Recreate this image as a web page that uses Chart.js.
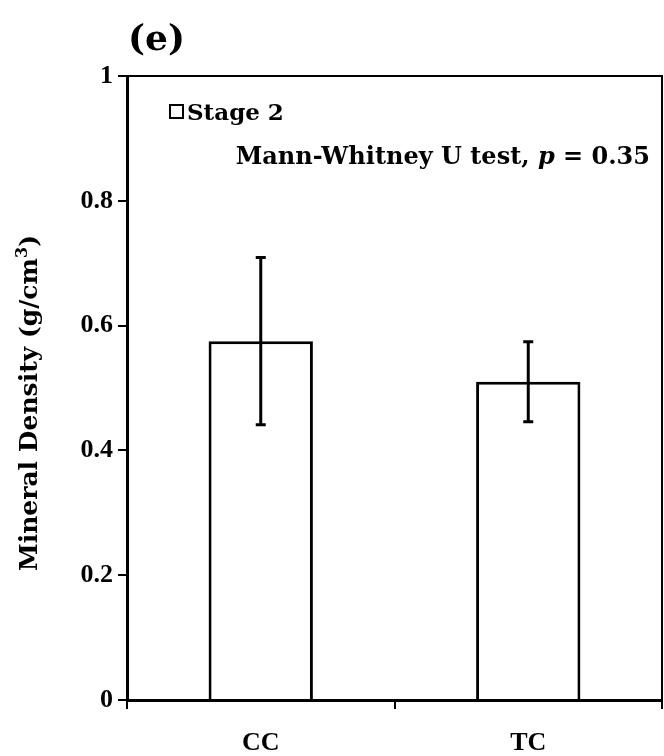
<!DOCTYPE html>
<html>
<head>
<meta charset="utf-8">
<script src="https://cdn.jsdelivr.net/npm/chart.js@4.4.0/dist/chart.umd.min.js"></script>
<style>
  html, body { margin: 0; padding: 0; background: #ffffff; }
  #wrap { width: 664px; height: 756px; position: relative; }
</style>
</head>
<body>
<div id="wrap"><canvas id="densityChart"></canvas></div>
<script>
// daten
const categories = ['CC', 'TC'];
const meanValues = [0.575, 0.510];
const sdValues = [0.134, 0.064];
const yTicks = [0, 0.2, 0.4, 0.6, 0.8, 1];
const seriesName = 'Stage 2';
const panelLabel = '(e)';
const testText = 'Mann-Whitney U test, ';

const tickFont = '"Liberation Serif", serif';
const textFont = '"DejaVu Serif", serif';

// fehlerbalken + texte
const extrasPlugin = {
    id: 'extras',
    afterDatasetsDraw(chart) {
        const ctx = chart.ctx;
        const x = chart.scales.x;
        const y = chart.scales.y;
        ctx.save();
        ctx.strokeStyle = '#000';
        ctx.lineWidth = 3;
        categories.forEach((c, i) => {
            const cx = x.getPixelForValue(i);
            const top = y.getPixelForValue(meanValues[i] + sdValues[i]);
            const bot = y.getPixelForValue(meanValues[i] - sdValues[i]);
            ctx.beginPath();
            ctx.moveTo(cx, top); ctx.lineTo(cx, bot);
            ctx.moveTo(cx - 5, top); ctx.lineTo(cx + 5, top);
            ctx.moveTo(cx - 5, bot); ctx.lineTo(cx + 5, bot);
            ctx.stroke();
        });
        ctx.restore();
    },
    afterDraw(chart) {
        const ctx = chart.ctx;
        const area = chart.chartArea;
        ctx.save();
        ctx.fillStyle = '#000';
        ctx.textBaseline = 'alphabetic';

        // panel label
        ctx.font = 'bold 36px ' + textFont;
        ctx.textAlign = 'left';
        ctx.fillText(panelLabel, 128, 50);

        // legende
        ctx.lineWidth = 2;
        ctx.strokeStyle = '#000';
        ctx.strokeRect(170, 105, 13, 13);
        ctx.font = 'bold 23px ' + textFont;
        ctx.fillText(seriesName, 187, 120);

        // test text
        ctx.font = 'bold 24px ' + textFont;
        const w1 = ctx.measureText(testText).width;
        ctx.font = 'bold italic 24px ' + textFont;
        const w2 = ctx.measureText('p').width;
        ctx.font = 'bold 24px ' + textFont;
        const w3 = ctx.measureText(' = 0.35').width;
        let tx = 650 - (w1 + w2 + w3);
        ctx.fillText(testText, tx, 164);
        ctx.font = 'bold italic 24px ' + textFont;
        ctx.fillText('p', tx + w1, 164);
        ctx.font = 'bold 24px ' + textFont;
        ctx.fillText(' = 0.35', tx + w1 + w2, 164);

        // y titel
        ctx.translate(37, 403);
        ctx.rotate(-Math.PI / 2);
        ctx.font = 'bold 25px ' + textFont;
        const main = 'Mineral Density (g/cm';
        const wm = ctx.measureText(main).width;
        ctx.font = 'bold 16px ' + textFont;
        const ws = ctx.measureText('3').width;
        ctx.font = 'bold 25px ' + textFont;
        const wc = ctx.measureText(')').width;
        let sx = -(wm + ws + wc) / 2;
        ctx.fillText(main, sx, 0);
        ctx.font = 'bold 16px ' + textFont;
        ctx.fillText('3', sx + wm, -10);
        ctx.font = 'bold 25px ' + textFont;
        ctx.fillText(')', sx + wm + ws, 0);

        // rahmen oben/rechts
        ctx.setTransform(1, 0, 0, 1, 0, 0);
        ctx.lineWidth = 2;
        ctx.beginPath();
        ctx.moveTo(area.left, area.top);
        ctx.lineTo(area.right, area.top);
        ctx.lineTo(area.right, area.bottom);
        ctx.stroke();
        ctx.restore();
    }
};

new Chart(document.getElementById('densityChart'), {
    type: 'bar',
    data: {
        labels: categories,
        datasets: [{
            label: seriesName,
            data: meanValues,
            backgroundColor: '#ffffff',
            borderColor: '#000000',
            borderWidth: 3,
            barPercentage: 0.39,
            categoryPercentage: 1
        }]
    },
    options: {
        responsive: true,
        maintainAspectRatio: false,
        animation: false,
        layout: { padding: { top: 76, right: 2, left: 0, bottom: 0 } },
        plugins: {
            legend: { display: false },
            tooltip: { enabled: false }
        },
        scales: {
            x: {
                offset: true,
                grid: {
                    offset: true,
                    drawOnChartArea: false,
                    color: '#000',
                    lineWidth: 2,
                    tickLength: 9
                },
                border: { color: '#000', width: 3 },
                ticks: {
                    color: '#000',
                    padding: 19,
                    font: { family: tickFont, size: 26, weight: 'bold' }
                },
                afterFit(scale) { scale.height = 56; }
            },
            y: {
                min: 0,
                max: 1,
                afterBuildTicks(scale) {
                    scale.ticks = yTicks.map(v => ({ value: v }));
                },
                grid: {
                    drawOnChartArea: false,
                    color: '#000',
                    lineWidth: 2,
                    tickLength: 9
                },
                border: { color: '#000', width: 3 },
                ticks: {
                    color: '#000',
                    padding: 5,
                    font: { family: tickFont, size: 26, weight: 'bold' },
                    callback: v => String(v)
                },
                afterFit(scale) { scale.width = 127; }
            }
        }
    },
    plugins: [extrasPlugin]
});
</script>
</body>
</html>
